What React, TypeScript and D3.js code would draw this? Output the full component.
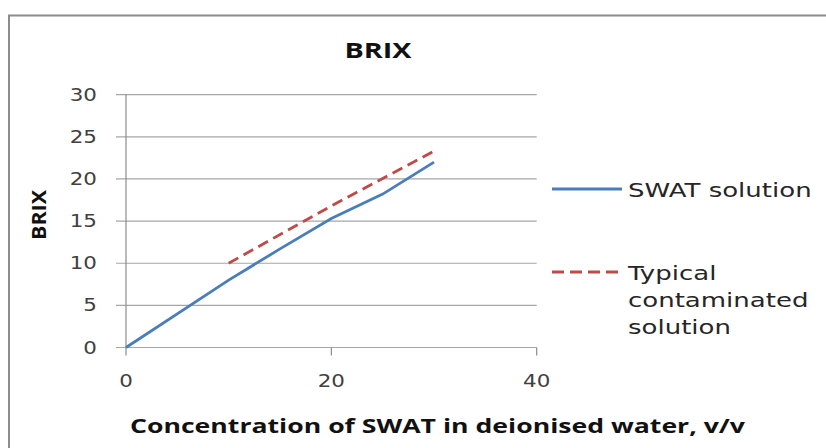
import * as d3 from "d3";

// chart values
const xTicks = [0, 20, 40];
const yTicks = [0, 5, 10, 15, 20, 25, 30];

const swatX = [0, 10, 15, 20, 25, 30];
const swatY = [0, 8, 11.7, 15.3, 18.2, 22];

const contamX = [10, 20, 30];
const contamY = [10, 16.8, 23.3];

const legendLabels = ["SWAT solution", "Typical contaminated solution"];

const W = 826;
const H = 448;
const STRETCH = 1.26; // the reference text is wider than the fonts we have

const BLUE = "#4A7EBB";
const RED = "#BE4B48";
const GRID = "#a6a6a6";

// text drawn wide, like in the picture
const Wide = ({ x, y, anchor = "start", size, children, fill = "#404040", stretch = STRETCH }: any) => (
  <g transform={`translate(${x},${y}) scale(${stretch},1)`}>
    <text textAnchor={anchor} fontSize={size} fill={fill} fontFamily="DejaVu Sans">
      {children}
    </text>
  </g>
);

export default function App() {
  const x = d3.scaleLinear().domain([0, 40]).range([126, 536.7]);
  const y = d3.scaleLinear().domain([0, 30]).range([347.5, 94.7]);

  const line = d3
    .line<[number, number]>()
    .x((d) => x(d[0]))
    .y((d) => y(d[1]));

  const swat = swatX.map((v, i) => [v, swatY[i]] as [number, number]);
  const contam = contamX.map((v, i) => [v, contamY[i]] as [number, number]);

  const [x0, x1] = x.range();

  return (
    <svg
      width={W}
      height={H}
      style={{ position: "absolute", left: 0, top: 0, background: "#fff" }}
    >
      {/* chart frame, runs off the right and bottom edge */}
      <rect x={9} y={15.5} width={900} height={500} fill="none" stroke="#8c8c8c" strokeWidth={2} />

      {/* title */}
      <text
        x={378}
        y={58}
        textAnchor="middle"
        fontFamily="Open Sans"
        fontWeight={700}
        fontSize={22}
        textLength={67}
        lengthAdjust="spacingAndGlyphs"
        fill="#111"
      >
        BRIX
      </text>

      {/* gridlines + y labels */}
      {yTicks.map((t) => (
        <g key={t}>
          <line x1={x0 - 10} x2={x1} y1={y(t)} y2={y(t)} stroke={GRID} strokeWidth={1.2} />
          <Wide x={97} y={y(t) + 6} anchor="end" size={17}>
            {t}
          </Wide>
        </g>
      ))}

      {/* axes */}
      <line x1={x0} x2={x0} y1={y(30)} y2={y(0)} stroke="#8c8c8c" strokeWidth={1.2} />
      {xTicks.map((t) => (
        <g key={t}>
          <line x1={x(t)} x2={x(t)} y1={y(0)} y2={y(0) + 8} stroke="#8c8c8c" strokeWidth={1.2} />
          <Wide x={x(t)} y={387} anchor="middle" size={17}>
            {t}
          </Wide>
        </g>
      ))}

      {/* series */}
      <path d={line(swat) ?? ""} fill="none" stroke={BLUE} strokeWidth={2.8} />
      <path d={line(contam) ?? ""} fill="none" stroke={RED} strokeWidth={2.8} strokeDasharray="11,6" />

      {/* axis titles */}
      <text
        x={130}
        y={433}
        fontFamily="Open Sans"
        fontWeight={700}
        fontSize={19}
        textLength={615}
        lengthAdjust="spacingAndGlyphs"
        fill="#111"
      >
        Concentration of SWAT in deionised water, v/v
      </text>
      <text
        transform="translate(46,215) rotate(-90)"
        textAnchor="middle"
        fontFamily="Open Sans"
        fontWeight={700}
        fontSize={19}
        textLength={50}
        lengthAdjust="spacingAndGlyphs"
        fill="#111"
      >
        BRIX
      </text>

      {/* legend */}
      <line x1={552} x2={622} y1={189} y2={189} stroke={BLUE} strokeWidth={2.8} />
      <Wide x={628} y={197} size={20} fill="#262626" stretch={1.3}>
        {legendLabels[0]}
      </Wide>
      <line x1={552} x2={622} y1={272} y2={272} stroke={RED} strokeWidth={2.8} strokeDasharray="12,6" />
      {["Typical", "contaminated", "solution"].map((w, i) => (
        <Wide key={w} x={628} y={280 + i * 27} size={20} fill="#262626" stretch={1.3}>
          {w}
        </Wide>
      ))}
    </svg>
  );
}
